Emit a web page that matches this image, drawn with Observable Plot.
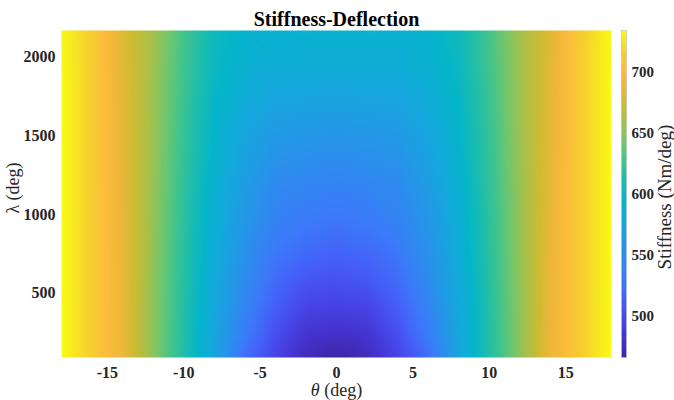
<!DOCTYPE html>
<html>
<head>
<meta charset="utf-8">
<script src="https://cdn.jsdelivr.net/npm/d3@7"></script>
<script src="https://cdn.jsdelivr.net/npm/@observablehq/plot@0.6"></script>
<style>
  html, body { margin: 0; padding: 0; background: #fff; }
  #wrap { position: relative; width: 674px; height: 400px; overflow: hidden; }
  #cbar { position: absolute; left: 621px; top: 0; }
</style>
</head>
<body>
<div id="wrap"><div id="main"></div><div id="cbar"></div></div>
<script>
// ---- data ----
const title = "Stiffness-Deflection";
const xLabel = "θ (deg)";
const yLabel = "λ (deg)";
const cLabel = "Stiffness (Nm/deg)";
const xTicks = [-15, -10, -5, 0, 5, 10, 15];
const yTicks = [500, 1000, 1500, 2000];
const cTicks = [500, 550, 600, 650, 700];

// theta (deg) sample columns
const thetas = [-18, -16, -14, -12, -10, -8, -6, -4, -2, 0, 2, 4, 6, 8, 10, 12, 14, 16, 18];
// lambda (deg) sample rows
const lambdas = [90, 250, 450, 650, 900, 1200, 1500, 1800, 2000, 2170];
// stiffness (Nm/deg) per lambda row
const s90   = [734,714,690,650,613,573,522,495,474,466,474,495,522,573,613,650,690,714,734];
const s250  = [734,714,690,650,614,575,533,503,484,481,484,503,533,575,614,650,690,714,734];
const s450  = [734,714,689,651,615,577,541,514,498,496,498,514,541,577,615,651,689,714,734];
const s650  = [734,714,689,652,616,580,548,523,512,508,512,523,548,580,616,652,689,714,734];
const s900  = [734,714,688,653,618,584,556,535,528,524,528,535,556,584,618,653,688,714,734];
const s1200 = [734,714,687,654,620,588,564,545,541,538,541,545,564,588,620,654,687,714,734];
const s1500 = [734,714,686,655,622,593,572,560,557,555,557,560,572,593,622,655,686,714,734];
const s1800 = [734,714,685,656,625,597,583,576,575,574,575,576,583,597,625,656,685,714,734];
const s2000 = [733,714,684,657,627,600,589,585,585,585,585,585,589,600,627,657,684,714,733];
const s2170 = [733,713,683,658,628,602,592,588,589,590,589,588,592,602,628,658,683,713,733];
const rows = [s90, s250, s450, s650, s900, s1200, s1500, s1800, s2000, s2170];

const colorDomain = [466, 734];
const parulaStops = ["#3e26a8","#4532cf","#4748e9","#4462f8","#3b7bf9","#2d8cee","#209ce4",
  "#12aadb","#05b5c9","#1cbdad","#40c48e","#73c66c","#a8c14a","#cebb33","#efb739","#fdbc3c",
  "#f6cf2f","#f9fb15"];
const parulaPos = [0,0.06,0.12,0.18,0.24,0.30,0.36,0.42,0.48,0.54,0.60,0.66,0.72,0.78,0.84,0.88,0.93,1];

// ---- build ----
const table = lambdas.flatMap((l, i) => thetas.map((t, j) => ({theta: t, lambda: l, value: rows[i][j]})));
const stopScale = d3.scaleLinear().domain(parulaPos).range(parulaStops).interpolate(d3.interpolateRgb).clamp(true);
const parula = (t) => stopScale(t);
const plain = (d) => String(d);

const font = "'Liberation Serif', 'Times New Roman', serif";
const colorOpts = {type: "linear", domain: colorDomain, interpolate: parula};

const main = Plot.plot({
  width: 674, height: 400,
  marginTop: 30, marginBottom: 43, marginLeft: 61, marginRight: 63,
  style: {fontFamily: font, background: "white", color: "#262626"},
  x: {domain: [-18, 18]},
  y: {domain: [90, 2170]},
  color: colorOpts,
  marks: [
    Plot.raster(table, {x: "theta", y: "lambda", fill: "value", interpolate: "barycentric"}),
    Plot.axisX({ticks: xTicks, tickFormat: plain, tickSize: 0, tickPadding: 9, fontSize: 16, fontWeight: "bold", label: null}),
    Plot.axisY({ticks: yTicks, tickFormat: plain, tickSize: 0, tickPadding: 6, fontSize: 16, fontWeight: "bold", label: null}),
    Plot.text([title], {text: d => d, frameAnchor: "top", dy: -11, lineAnchor: "middle", fontSize: 20, fontWeight: "bold", fill: "black"}),
    Plot.text([xLabel], {text: d => d, frameAnchor: "bottom", dy: 33, textAnchor: "middle", lineAnchor: "middle", fontSize: 18, fill: "#262626"}),
    Plot.text([yLabel], {text: d => d, frameAnchor: "left", dx: -48, dy: -6, rotate: -90, textAnchor: "middle", lineAnchor: "middle", fontSize: 18, fill: "#262626"})
  ]
});
document.getElementById("main").append(main);

// italic theta
d3.select(main).selectAll("text").filter(function() { return this.textContent === xLabel; })
  .each(function() {
    const el = d3.select(this);
    el.text(null);
    el.append("tspan").attr("font-style", "italic").text("θ");
    el.append("tspan").text(" (deg)");
  });

const cbar = Plot.plot({
  width: 53, height: 400,
  marginTop: 30, marginBottom: 43, marginLeft: 0, marginRight: 48,
  style: {fontFamily: font, background: "transparent", color: "#262626", overflow: "visible"},
  x: {domain: [0, 1], axis: null},
  y: {domain: colorDomain},
  color: colorOpts,
  marks: [
    Plot.raster({fill: (x, y) => y, x1: 0, x2: 1, y1: colorDomain[0], y2: colorDomain[1]}),
    Plot.frame({stroke: "#bdbdbd", strokeWidth: 0.6}),
    Plot.axisY({anchor: "right", ticks: cTicks, tickFormat: plain, tickSize: 0, tickPadding: 5, fontSize: 15, fontWeight: "bold", label: null}),
    Plot.text([cLabel], {text: d => d, frameAnchor: "right", dx: 38, dy: 3, rotate: -90, textAnchor: "middle", lineAnchor: "middle", fontSize: 19, fill: "#262626"})
  ]
});
document.getElementById("cbar").append(cbar);
</script>
</body>
</html>
